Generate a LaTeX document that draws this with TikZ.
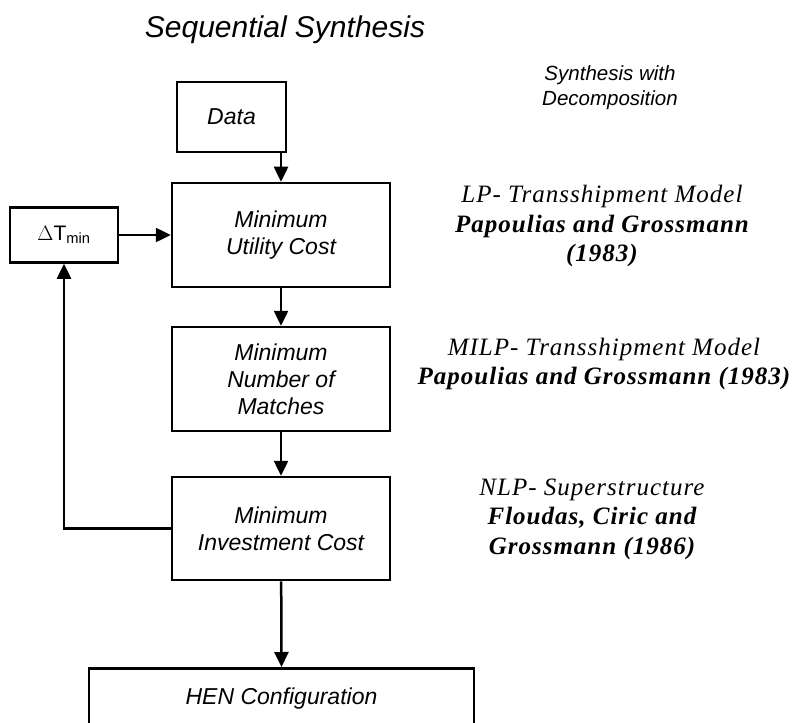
\documentclass[tikz,border=0pt]{standalone}
\usepackage{fontspec}
\setmainfont{Liberation Serif}[LetterSpace=4]
\setsansfont{Liberation Sans}
\usetikzlibrary{arrows.meta}
\begin{document}
\begin{tikzpicture}[x=1pt,y=-1pt,
  box/.style={draw,line width=2.5pt,align=center,font=\sffamily\itshape\fontsize{23}{27}\selectfont,inner sep=0pt},
  flow/.style={line width=2.5pt,-{Triangle[length=15pt,width=14pt]}},
  refnote/.style={align=center,font=\fontsize{25}{29.5}\selectfont}]
\useasboundingbox (0,0) rectangle (794,722);

% title and side heading
\node[font=\sffamily\itshape\fontsize{30}{34}\selectfont] (title) at (285,30) {Sequential Synthesis};
\node[align=center,font=\sffamily\itshape\fontsize{20.5}{25}\selectfont] (side) at (610,88) {Synthesis with\\Decomposition};

% flowsheet boxes
\node[box,minimum width=109pt,minimum height=70pt] (data) at (231.5,117) {Data};
\node[box,minimum width=218pt,minimum height=104pt] (util) at (281,235) {Minimum\\Utility Cost};
\node[box,minimum width=108pt,minimum height=55pt,font=\sffamily\fontsize{21}{24}\selectfont] (dt) at (64,235) {$\Delta$T\textsubscript{min}};
\node[box,minimum width=218pt,minimum height=104pt] (match) at (281,379) {Minimum\\Number of\\Matches};
\node[box,minimum width=218pt,minimum height=103pt] (inv) at (281,528.5) {Minimum\\Investment Cost};
\node[box,minimum width=385pt,anchor=north,text height=36pt,text depth=32pt] (hen) at (281.5,667) {HEN Configuration};

% connectors
\draw[flow] (data.south -| util.north) -- (util.north);
\draw[flow] (dt) -- (util);
\draw[flow] (util) -- (match);
\draw[flow] (match) -- (inv);
\draw[flow] (inv) -- (hen.north);
\draw[flow] (inv.west) -| (dt.south);

% literature notes
\node[refnote] (lp) at (602,226) {\itshape LP- Transshipment Model\\\bfseries\itshape Papoulias and Grossmann\\\bfseries\itshape (1983)};
\node[refnote] (milp) at (604,364) {\itshape MILP- Transshipment Model\\\bfseries\itshape Papoulias and Grossmann (1983)};
\node[refnote] (nlp) at (592,519) {\itshape NLP- Superstructure\\\bfseries\itshape Floudas, Ciric and\\\bfseries\itshape Grossmann (1986)};
\end{tikzpicture}
\end{document}
